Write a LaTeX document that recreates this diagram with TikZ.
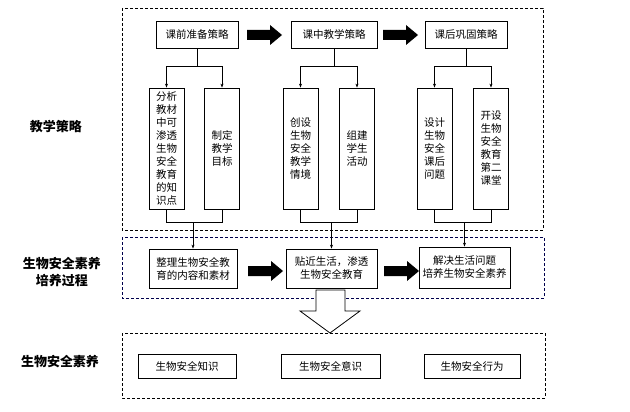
\documentclass[tikz,border=0pt]{standalone}
\usepackage{fontspec}
\setmainfont{Noto Sans CJK SC}
\usetikzlibrary{arrows.meta}
\tikzset{
  box/.style={draw, thick, fill=white, align=center, font=\fontsize{10.5}{13}\selectfont, inner sep=0pt},
  frame/.style={draw, densely dashed, thick},
  link/.style={thick, -{Stealth[length=4pt,width=3pt]}},
  bigarrow/.style={fill=black},
  side/.style={font=\fontsize{13}{17}\selectfont\bfseries, align=center}
}
\begin{document}
\begin{tikzpicture}[x=1pt,y=-1pt]
\useasboundingbox (0,0) rectangle (630,412);
% dashed frames
\draw [frame] (122,8) rectangle (543,230);
\draw [frame, color=blue!30!black] (122,237) rectangle (544,298);
\draw [frame] (122,333) rectangle (545,398);
% side labels
\node [side] (l1) at (56,127) {教学策略};
\node [side] (l2) at (62,272) {生物安全素养\\培养过程};
\node [side] (l3) at (60,362) {生物安全素养};
% header boxes
\node [box, minimum width=82, minimum height=27] (h1) at (197,34.5) {课前准备策略};
\node [box, minimum width=86, minimum height=27] (h2) at (334,34.5) {课中教学策略};
\node [box, minimum width=82, minimum height=27] (h3) at (466,34.5) {课后巩固策略};
% strategy boxes
\foreach \n/\x/\t in {s1/166.5/分析\\教材\\中可\\渗透\\生物\\安全\\教育\\的知\\识点, s2/222/制定\\教学\\目标,
  s3/300.5/创设\\生物\\安全\\教学\\情境, s4/357/组建\\学生\\活动,
  s5/434.5/设计\\生物\\安全\\课后\\问题, s6/491/开设\\生物\\安全\\教育\\第二\\课堂}
  {\node [box, minimum width=35, minimum height=121] (\n) at (\x,148.5) {\t};}
% process boxes
\node [box, minimum width=88, minimum height=39] (p1) at (193,268.5) {整理生物安全教\\育的内容和素材};
\node [box, minimum width=91, minimum height=39] (p2) at (331.5,268.5) {贴近生活，渗透\\生物安全教育};
\node [box, minimum width=91, minimum height=41] (p3) at (464.5,267.5) {解决生活问题\\培养生物安全素养};
% literacy boxes
\node [box, minimum width=98, minimum height=24] (b1) at (187,366) {生物安全知识};
\node [box, minimum width=99, minimum height=24] (b2) at (330.5,366) {生物安全意识};
\node [box, minimum width=96, minimum height=24] (b3) at (472,366) {生物安全行为};
% branches
\foreach \h/\a/\b/\p in {h1/s1/s2/p1, h2/s3/s4/p2, h3/s5/s6/p3} {
  \draw [thick] (\h.south) -- ++(0,18) coordinate (\h m);
  \draw [link] (\h m) -| (\a.north);
  \draw [link] (\h m) -| (\b.north);
  \draw [thick] (\a.south) -- ++(0,13) -| (\b.south);
  \draw [link] (\p.north |- 0,222) -- (\p.north);
}
% black block arrows
\foreach \x/\y in {247/35, 383/35, 248/271, 384/271}
  \fill [bigarrow] (\x,\y-5) -- ++(23,0) -- ++(0,-5) -- ++(12,10) -- ++(-12,10) -- ++(0,-5) -- ++(-23,0) -- cycle;
% hollow arrow
\draw [thick, fill=white] (316,290) -- (345,290) -- (345,311) -- (360,311) -- (330,333) -- (300,311) -- (316,311) -- cycle;
\end{tikzpicture}
\end{document}
